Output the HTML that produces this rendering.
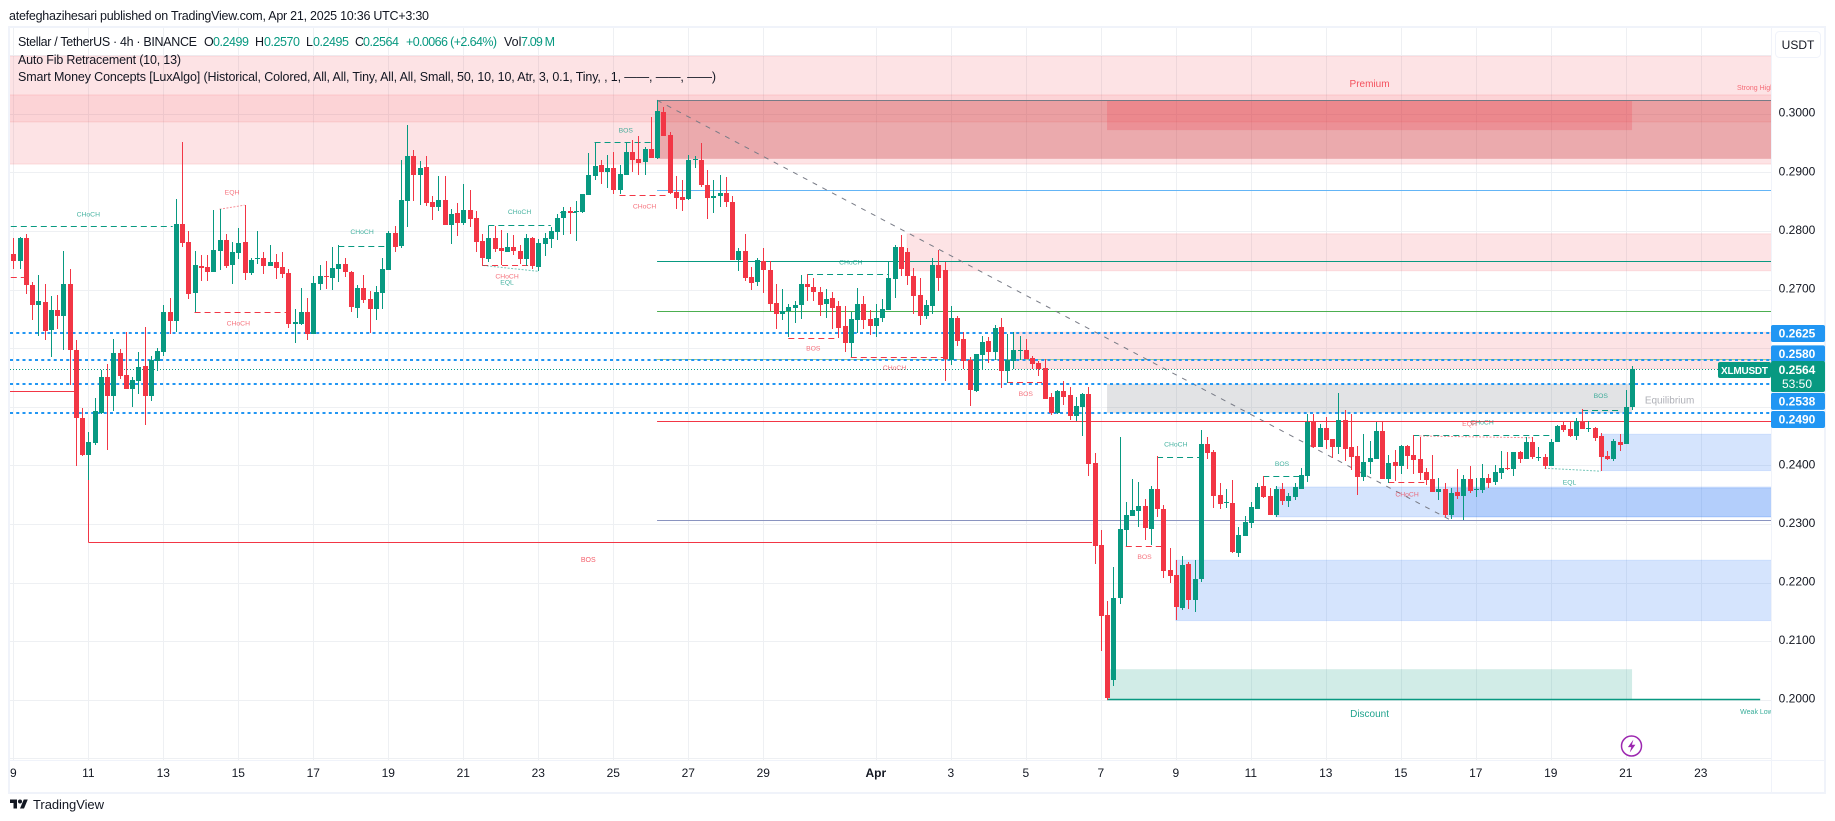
<!DOCTYPE html>
<html lang="en">
<head>
<meta charset="utf-8">
<title>XLMUSDT 4h chart</title>
<style>
html,body{margin:0;padding:0;background:#fff;width:1835px;height:821px;overflow:hidden}
svg{display:block;font-family:"Liberation Sans",sans-serif}
</style>
</head>
<body>
<svg id="chart" xmlns="http://www.w3.org/2000/svg" width="1835" height="821" viewBox="0 0 1835 821">
  <defs><clipPath id="plot-clip"><rect x="10" y="28" width="1761" height="732"/></clipPath></defs>
  <rect x="0" y="0" width="1835" height="821" fill="#ffffff"/>
  <rect x="9" y="27" width="1816" height="766" fill="none" stroke="#f0f3fa" stroke-width="2"/>
  <g id="plot" clip-path="url(#plot-clip)"></g>
  <line x1="10" y1="760.5" x2="1825" y2="760.5" stroke="#f0f3fa"/>
  <line x1="1771.5" y1="27" x2="1771.5" y2="792" stroke="#f0f3fa"/>
  <g id="price-axis"></g>
  <g id="time-axis"></g>

  <text x="9" y="20" font-size="12.5" fill="#131722" textLength="420" lengthAdjust="spacing">atefeghazihesari published on TradingView.com, Apr 21, 2025 10:36 UTC+3:30</text>
  <g font-size="12.5" fill="#131722">
    <text x="18" y="46" textLength="179" lengthAdjust="spacing">Stellar / TetherUS · 4h · BINANCE</text>
    <text x="204" y="46">O</text>
    <text x="213" y="46" fill="#089981" textLength="36">0.2499</text>
    <text x="255" y="46">H</text>
    <text x="264" y="46" fill="#089981" textLength="36">0.2570</text>
    <text x="306" y="46">L</text>
    <text x="313" y="46" fill="#089981" textLength="36">0.2495</text>
    <text x="355" y="46">C</text>
    <text x="363" y="46" fill="#089981" textLength="36">0.2564</text>
    <text x="406" y="46" fill="#089981" textLength="91">+0.0066 (+2.64%)</text>
    <text x="504" y="46">Vol</text>
    <text x="521" y="46" fill="#089981" textLength="34">7.09 M</text>
    <text x="18" y="64" textLength="163" lengthAdjust="spacing">Auto Fib Retracement (10, 13)</text>
    <text x="18" y="81" textLength="698" lengthAdjust="spacing">Smart Money Concepts [LuxAlgo] (Historical, Colored, All, All, Tiny, All, All, Small, 50, 10, 10, Atr, 3, 0.1, Tiny, , 1, ——, ——, ——)</text>
  </g>

  <g>
    <rect x="1775.5" y="31.5" width="45" height="26" rx="4" fill="#fff" stroke="#f0f3fa"/>
    <text x="1798" y="49" font-size="12" text-anchor="middle" fill="#131722">USDT</text>
  </g>

  <g id="price-tags"></g>

  <g>
    <rect x="1718" y="362" width="53" height="16" rx="2" fill="#089981"/>
    <text x="1744.5" y="374" font-size="10" font-weight="bold" text-anchor="middle" fill="#fff" textLength="47">XLMUSDT</text>
    <rect x="1771" y="361" width="54" height="31" rx="2" fill="#089981"/>
    <text x="1797" y="374" font-size="12" font-weight="bold" text-anchor="middle" fill="#fff">0.2564</text>
    <text x="1797" y="388" font-size="12" text-anchor="middle" fill="#fff">53:50</text>
  </g>

  <g>
    <circle cx="1631.5" cy="746" r="10" fill="#fff" stroke="#9c27b0" stroke-width="1.5"/>
    <polygon points="1633.4,739.6 1627.9,747.1 1631.3,747.1 1629.7,752.6 1635.4,744.8 1631.9,744.8" fill="#9c27b0"/>
  </g>

  <g>
    <g transform="translate(10 797.5) scale(0.5)" fill="#131722">
      <path d="M14 22H7V11H0V4h14v18zM28 22h-8l7.5-18h8L28 22z"/>
      <circle cx="20" cy="8" r="4"/>
    </g>
    <text x="33" y="809" font-size="13" fill="#131722" textLength="71">TradingView</text>
  </g>
</svg>

<script>
// Prices are stored in ten-thousandths of a USDT.
const priceUnit = 10000;
const opens = [
2761,2749,2788,2708,2673,2679,2631,2665,2655,2709,
2597,2481,2418,2438,2490,2551,2519,2592,2554,2530,
2544,2569,2518,2578,2593,2662,2646,2812,2781,2694,
2740,2738,2730,2766,2784,2742,2762,2781,2728,2752,
2754,2740,2747,2738,2728,2641,2641,2662,2624,2709,
2723,2720,2735,2744,2730,2668,2703,2684,2667,2694,
2733,2796,2774,2851,2928,2895,2909,2849,2841,2853,
2810,2831,2813,2836,2822,2783,2752,2788,2771,2764,
2773,2766,2752,2788,2738,2778,2786,2798,2822,2834,
2832,2832,2861,2894,2912,2900,2907,2870,2895,2935,
2923,2918,2940,2924,3003,2964,2866,2858,2854,2921,
2921,2878,2856,2860,2865,2849,2750,2766,2721,2713,
2749,2733,2677,2658,2663,2668,2674,2709,2704,2696,
2675,2686,2672,2638,2609,2648,2675,2650,2638,2651,
2665,2718,2772,2764,2723,2691,2655,2672,2742,2733,
2580,2651,2616,2580,2527,2588,2612,2593,2636,2561,
2578,2595,2597,2583,2575,2566,2517,2489,2527,2520,
2484,2499,2522,2404,2264,2145,2034,2173,2290,2314,
2322,2331,2291,2360,2325,2221,2213,2157,2232,2170,
2206,2436,2423,2349,2336,2336,2250,2279,2301,2325,
2365,2348,2315,2360,2339,2346,2360,2382,2474,2431,
2464,2445,2431,2477,2431,2416,2380,2406,2411,2459,
2377,2406,2399,2433,2418,2411,2389,2377,2354,2360,
2315,2354,2348,2377,2358,2358,2378,2371,2387,2395,
2394,2423,2411,2440,2412,2414,2399,2440,2469,2462,
2450,2476,2462,2464,2450,2416,2411,2440,2436,2499];
const highs = [
2788,2790,2795,2713,2725,2709,2689,2691,2766,2735,
2614,2498,2457,2515,2563,2573,2616,2599,2628,2551,
2593,2636,2587,2600,2674,2686,2854,2952,2800,2766,
2759,2759,2836,2837,2795,2781,2805,2844,2754,2800,
2764,2776,2761,2764,2735,2667,2703,2686,2723,2742,
2749,2773,2776,2754,2732,2708,2725,2697,2706,2754,
2800,2808,2921,2981,2938,2919,2928,2860,2894,2894,
2837,2848,2880,2870,2834,2795,2809,2808,2802,2796,
2793,2776,2795,2790,2786,2796,2807,2829,2841,2841,
2851,2863,2933,2951,2921,2930,2935,2912,2950,2955,
2962,2943,2994,3023,3011,2969,2894,2887,2929,2928,
2950,2904,2887,2895,2892,2860,2771,2795,2738,2754,
2771,2749,2709,2701,2675,2680,2725,2726,2720,2704,
2701,2696,2680,2672,2662,2703,2689,2665,2675,2684,
2749,2776,2793,2770,2737,2720,2682,2754,2767,2747,
2672,2655,2627,2585,2590,2621,2619,2639,2651,2624,
2627,2621,2616,2587,2578,2581,2523,2529,2544,2534,
2517,2523,2534,2421,2290,2168,2226,2448,2337,2377,
2372,2342,2365,2416,2332,2259,2238,2245,2235,2238,
2460,2448,2426,2370,2360,2375,2295,2313,2337,2370,
2382,2361,2365,2370,2353,2370,2395,2488,2488,2470,
2482,2445,2523,2494,2488,2433,2453,2441,2474,2474,
2418,2426,2435,2435,2451,2448,2395,2418,2378,2370,
2361,2394,2383,2399,2378,2402,2385,2401,2424,2423,
2423,2424,2448,2448,2431,2419,2445,2469,2474,2474,
2481,2496,2476,2465,2455,2424,2445,2453,2528,2570];
const lows = [
2735,2735,2692,2648,2621,2614,2585,2633,2597,2537,
2399,2416,2375,2435,2488,2426,2492,2547,2530,2500,
2522,2469,2510,2561,2587,2624,2628,2773,2684,2661,
2714,2714,2730,2733,2737,2709,2752,2716,2725,2744,
2726,2740,2718,2720,2634,2609,2639,2614,2624,2700,
2701,2699,2713,2721,2662,2651,2677,2626,2648,2667,
2733,2764,2771,2807,2851,2844,2842,2819,2834,2810,
2778,2791,2810,2807,2764,2742,2747,2764,2742,2764,
2759,2744,2740,2735,2732,2757,2771,2784,2793,2795,
2783,2831,2861,2887,2880,2873,2863,2863,2895,2901,
2895,2895,2924,2923,2962,2863,2837,2834,2853,2907,
2875,2820,2831,2841,2841,2750,2732,2715,2699,2706,
2694,2663,2633,2648,2619,2643,2650,2680,2680,2655,
2651,2633,2618,2593,2584,2626,2633,2622,2619,2645,
2665,2685,2723,2708,2658,2639,2650,2658,2697,2544,
2571,2604,2564,2501,2525,2563,2575,2580,2532,2540,
2564,2580,2581,2564,2552,2513,2486,2488,2503,2477,
2475,2450,2382,2232,2083,2000,2023,2163,2262,2314,
2295,2273,2264,2312,2208,2199,2136,2153,2155,2150,
2201,2411,2327,2325,2327,2250,2244,2279,2293,2325,
2344,2315,2312,2332,2329,2341,2360,2372,2430,2431,
2428,2412,2419,2407,2392,2349,2373,2385,2411,2377,
2370,2373,2385,2394,2385,2375,2366,2354,2341,2312,
2308,2342,2307,2353,2346,2353,2361,2366,2377,2392,
2382,2404,2411,2411,2407,2394,2399,2440,2457,2448,
2443,2462,2457,2441,2390,2409,2407,2424,2436,2495];
const closes = [
2749,2788,2707,2673,2680,2630,2665,2655,2709,2596,
2481,2418,2440,2493,2551,2519,2592,2552,2530,2546,
2568,2518,2580,2595,2662,2646,2812,2779,2692,2742,
2737,2730,2767,2784,2740,2764,2779,2728,2750,2754,
2740,2747,2737,2727,2641,2645,2662,2624,2711,2723,
2721,2737,2744,2730,2670,2703,2682,2667,2696,2735,
2796,2773,2853,2928,2895,2907,2848,2841,2853,2810,
2829,2813,2836,2820,2781,2754,2788,2769,2766,2773,
2766,2752,2788,2740,2779,2788,2800,2822,2834,2831,
2834,2863,2895,2911,2900,2907,2870,2897,2935,2921,
2916,2940,2924,3005,2962,2865,2856,2853,2921,2923,
2878,2856,2860,2865,2849,2750,2766,2720,2711,2750,
2733,2675,2658,2663,2670,2674,2709,2704,2696,2674,
2684,2668,2634,2609,2650,2675,2648,2638,2651,2667,
2720,2773,2735,2723,2689,2655,2673,2742,2720,2581,
2651,2612,2578,2529,2590,2610,2593,2634,2561,2580,
2597,2597,2581,2573,2564,2513,2489,2527,2517,2484,
2501,2522,2402,2262,2143,2003,2174,2291,2315,2324,
2331,2293,2360,2325,2220,2211,2158,2230,2170,2206,
2436,2421,2348,2334,2337,2252,2281,2303,2329,2363,
2346,2315,2360,2339,2348,2363,2383,2474,2431,2464,
2443,2431,2477,2428,2414,2380,2406,2412,2459,2377,
2404,2399,2433,2416,2409,2387,2375,2354,2360,2315,
2353,2348,2377,2356,2360,2378,2370,2389,2395,2394,
2423,2411,2440,2414,2414,2399,2440,2467,2460,2450,
2476,2462,2464,2447,2414,2411,2442,2435,2499,2564];

const priceTicks = [3000,2900,2800,2700,2400,2300,2200,2100,2000];
const gridPrices = [3100,3000,2900,2800,2700,2600,2500,2400,2300,2200,2100,2000,1900];
const timeTickBars = [0,12,24,36,48,60,72,84,96,108,120,138,150,162,174,186,198,210,222,234,246,258,270];
const timeTickLabels = ['9','11','13','15','17','19','21','23','25','27','29','Apr','3','5','7','9','11','13','15','17','19','21','23'];

const lastPrice = 2564;
const keyLevels = [2625,2580,2538,2490];
const keyLevelTagPrices = [2625,2580,2538,2490];

// Zones: [startBar, endBar, upperPrice, lowerPrice]
const premiumZones = [[-2,283,3098,2914],[143,283,2795,2732],[160,283,2627,2565]];
const premiumBands = [[-2,283,3032,2986]];
const supplyZones = [[103,283,3023,2923]];
const strongSupplyZones = [[175,259,3023,2972]];
const equilibriumZones = [[175,259,2539,2489]];
const discountZones = [[175,259,2052,2001]];
const demandZones = [[186,283,2238,2135],[202,283,2363,2312],[230,283,2361,2312],[254,283,2453,2391]];

// Fib retracement levels from the swing high bar onward
const fibStartBar = 103;
const fibPrices = [3023,2869,2749,2664,2581,2475,2306];
const fibNames = ['fib-level-0','fib-level-236','fib-level-382','fib-level-500','fib-level-618','fib-level-786','fib-level-1'];
const fibDiagonal = [103,3023,229.7,2308];

// Structure breaks: [startBar, endBar, price, labelText, labelBar, labelPrice]
const bullBreaks = [
[-2,25.5,2808,'CHoCH',12,2828],[52,60,2775,'CHoCH',55.8,2798],[76,86,2810,'CHoCH',81,2832],
[87.5,90.4,2833,'',0,0],[93,102.4,2951,'BOS',98,2971],[127,140,2726,'CHoCH',134,2746],
[183,191,2415,'CHoCH',186,2435],[200,206,2381,'BOS',203,2402],[224,246,2451,'CHoCH',235,2473],
[251,257,2495,'BOS',254,2518]];
const bearBreaks = [
[-2,1.7,2721,'',0,0],[29,44,2661,'CHoCH',36,2642],[75,83,2741,'CHoCH',79,2722],
[97,105,2862,'CHoCH',101,2841],[124,132,2618,'BOS',128,2599],[134,149,2584,'CHoCH',141,2566],
[159,164.6,2542,'BOS',162,2521],[178,184,2262,'BOS',181,2243],[220,226.3,2371,'CHoCH',223,2350]];
// Solid red swing-break lines: [startBar, endBar, price]
const solidBreaks = [[-2,10,2527],[12,172.6,2269]];
const solidBreakDrop = [12,2375,2269];
const solidBreakLabel = ['BOS',92,2238];

// Equal highs / lows: [startBar, startPrice, endBar, endPrice, labelBar, labelPrice]
const equalHighs = [[33,2837,37,2844,35,2865],[225,2450,243,2447,233,2470]];
const equalLows = [[75.2,2741,84,2731,79,2712],[245,2395,254,2390,249,2370]];

const zoneCaptions = [['Premium',217,3050,10,'#f23645',0.85],['Discount',217,1975,10,'#089981',0.9],['Equilibrium',265,2510,10,'#787b86',0.6]];
const trendLine = [175,279.5,2001];
const strongHighLabel = ['Strong High',275.8,3044];
const weakLowLabel = ['Weak Low',276.3,1979];

// Axis functions
const barX = function(b){ return 13.3 + 6.25 * b; };
const priceY = function(v){ return 172.3 + (2900 - v) * 0.586; };

const NS = 'http://www.w3.org/2000/svg';
const plot = document.getElementById('plot');
const priceAxis = document.getElementById('price-axis');
const timeAxis = document.getElementById('time-axis');
const priceTags = document.getElementById('price-tags');

function mk(tag, attrs, parent){
  const el = document.createElementNS(NS, tag);
  for (const k in attrs) el.setAttribute(k, attrs[k]);
  parent.appendChild(el);
  return el;
}
function hline(x1, x2, y, stroke, width, dash, parent){
  const attrs = {x1:x1, x2:x2, y1:y, y2:y, stroke:stroke, 'stroke-width':width};
  if (dash) attrs['stroke-dasharray'] = dash;
  return mk('line', attrs, parent);
}

// Grid
timeTickBars.forEach(function(b){
  const x = Math.round(barX(b)) + 0.5;
  const el = mk('line', {x1:x, x2:x, y1:27, y2:760, stroke:'#eef0f3', 'stroke-width':1}, plot);
  
  
});
gridPrices.forEach(function(p){
  const y = Math.round(priceY(p)) + 0.5;
  const el = hline(10, 1771, y, '#eef0f3', 1, null, plot);
  
  
});

// Zones
function zone(z, fill, stroke){
  const x = barX(z[0]), w = barX(z[1]) - x, y = priceY(z[2]), h = priceY(z[3]) - y;
  const attrs = {x:x, y:y, width:w, height:h, fill:fill};
  if (stroke) attrs.stroke = stroke;
  return mk('rect', attrs, plot);
}
premiumZones.forEach(function(z){
  const el = zone(z, 'rgba(242,54,69,0.14)', 'rgba(242,54,69,0.12)');
  
  
});
premiumBands.forEach(function(z){
  const el = zone(z, 'rgba(242,54,69,0.09)', 'rgba(242,54,69,0.12)');
  
  
});
supplyZones.forEach(function(z){
  const el = zone(z, 'rgba(196,40,43,0.30)', null);
  
  
});
strongSupplyZones.forEach(function(z){
  const el = zone(z, 'rgba(242,54,69,0.22)', null);
  
  
});
equilibriumZones.forEach(function(z){
  const el = zone(z, 'rgba(120,123,134,0.21)', null);
  
  
});
discountZones.forEach(function(z){
  const el = zone(z, 'rgba(8,153,129,0.19)', null);
  
  
});
demandZones.forEach(function(z){
  const el = zone(z, 'rgba(33,110,245,0.19)', 'rgba(33,110,245,0.14)');
  
  
});

// Fib levels
const fibColors = ['#787b86','#64b5f6','#089981','#4caf50','#9ccc8c','#f23645','#8a94c0'];
fibPrices.forEach(function(p, i){
  const el = hline(barX(fibStartBar), 1771, Math.round(priceY(p)) + 0.5, fibColors[i], 1, null, plot);
  
  
});
const diag = mk('line', {x1:barX(fibDiagonal[0]), y1:priceY(fibDiagonal[1]), x2:barX(fibDiagonal[2]), y2:priceY(fibDiagonal[3]), stroke:'#787b86', 'stroke-width':1, 'stroke-dasharray':'5 6'}, plot);



// Key levels
keyLevels.forEach(function(p){
  const el = hline(10, 1771, Math.round(priceY(p)), '#2196f3', 2, '3 3.25', plot);
  
  
});
const lastLine = hline(10, 1771, Math.round(priceY(lastPrice)) + 0.5, '#089981', 1, '1 2', plot);



// Solid breaks
solidBreaks.forEach(function(s){
  const el = hline(barX(s[0]), barX(s[1]), Math.round(priceY(s[2])) + 0.5, '#f23645', 1, null, plot);
  
  
});
const dropX = Math.round(barX(solidBreakDrop[0])) + 0.5;
const drop = mk('line', {x1:dropX, x2:dropX, y1:priceY(solidBreakDrop[1]), y2:priceY(solidBreakDrop[2]), stroke:'#f23645', 'stroke-width':1}, plot);



// Dashed structure lines
bullBreaks.forEach(function(s){
  const el = hline(barX(s[0]), barX(s[1]), Math.round(priceY(s[2])) + 0.5, '#089981', 1, '6 4', plot);
  
  
});
bearBreaks.forEach(function(s){
  const el = hline(barX(s[0]), barX(s[1]), Math.round(priceY(s[2])) + 0.5, '#f23645', 1, '6 4', plot);
  
  
});
equalHighs.forEach(function(s){
  const el = mk('line', {x1:barX(s[0]), y1:priceY(s[1]), x2:barX(s[2]), y2:priceY(s[3]), stroke:'#f23645', 'stroke-width':1, 'stroke-dasharray':'2 1.5', opacity:0.55}, plot);
  
  
});
equalLows.forEach(function(s){
  const el = mk('line', {x1:barX(s[0]), y1:priceY(s[1]), x2:barX(s[2]), y2:priceY(s[3]), stroke:'#089981', 'stroke-width':1, 'stroke-dasharray':'2 1.5', opacity:0.55}, plot);
  
  
});
const discountLine = hline(barX(trendLine[0]), barX(trendLine[1]), Math.round(priceY(trendLine[2])) + 0.5, '#089981', 1.4, null, plot);



// Candles
opens.forEach(function(o, i){
  const c = closes[i], up = c >= o;
  const color = up ? '#089981' : '#f23645';
  const cx = Math.round(barX(i));
  const top = Math.round(priceY(Math.max(o, c)));
  const bot = Math.round(priceY(Math.min(o, c)));
  const hi = Math.round(priceY(highs[i]));
  const lo = Math.round(priceY(lows[i]));
  const wick = mk('rect', {x:cx, y:hi, width:1, height:Math.max(1, lo - hi), fill:color, 'shape-rendering':'crispEdges'}, plot);
  
  
  const body = mk('rect', {x:cx - 2, y:top, width:5, height:Math.max(1, bot - top), fill:color, 'shape-rendering':'crispEdges'}, plot);
  
  
});

// Labels
function label(text, bar, price, size, color, opacity, anchor){
  const el = mk('text', {x:barX(bar), y:priceY(price), 'font-size':size, fill:color, opacity:opacity, 'text-anchor':anchor || 'middle', 'dominant-baseline':'middle'}, plot);
  el.textContent = text;
  return el;
}
bullBreaks.forEach(function(s){
  if (!s[3]) return;
  const el = label(s[3], s[4], s[5], 6.8, '#089981', 0.75);
  
  
});
bearBreaks.forEach(function(s){
  if (!s[3]) return;
  const el = label(s[3], s[4], s[5], 6.8, '#f23645', 0.7);
  
  
});
const bosLabel = label(solidBreakLabel[0], solidBreakLabel[1], solidBreakLabel[2], 7, '#f23645', 0.8);


equalHighs.forEach(function(s){
  const el = label('EQH', s[4], s[5], 6.8, '#f23645', 0.7);
  
  
});
equalLows.forEach(function(s){
  const el = label('EQL', s[4], s[5], 6.8, '#089981', 0.75);
  
  
});
zoneCaptions.forEach(function(c){
  const el = label(c[0], c[1], c[2], c[3], c[4], c[5]);
  
  
});
const strongHigh = label(strongHighLabel[0], strongHighLabel[1], strongHighLabel[2], 7, '#f23645', 0.7, 'start');


const weakLow = label(weakLowLabel[0], weakLowLabel[1], weakLowLabel[2], 7, '#089981', 0.8, 'start');



// Axes
priceTicks.forEach(function(p){
  const el = mk('text', {x:1797, y:priceY(p) + 3, 'font-size':12, 'text-anchor':'middle', fill:'#131722'}, priceAxis);
  el.textContent = (p / priceUnit).toFixed(4);
  
  
});
timeTickBars.forEach(function(b, i){
  const t = timeTickLabels[i];
  const attrs = {x:barX(b), y:777, 'font-size':12, 'text-anchor':'middle', fill:'#131722'};
  if (t === 'Apr') attrs['font-weight'] = 'bold';
  const el = mk('text', attrs, timeAxis);
  el.textContent = t;
  
  
});

// Blue level tags (stacked clear of the last-price tag)
const tagOffsets = [0, -6, 17, 7];
keyLevelTagPrices.forEach(function(p, i){
  const cy = priceY(p) + tagOffsets[i];
  const box = mk('rect', {x:1771, y:cy - 8.5, width:54, height:17, rx:2, fill:'#2196f3'}, priceTags);
  
  
  const txt = mk('text', {x:1797, y:cy + 4, 'font-size':12, 'font-weight':'bold', 'text-anchor':'middle', fill:'#fff'}, priceTags);
  txt.textContent = (p / priceUnit).toFixed(4);
  
  
});
</script>
</body>
</html>
